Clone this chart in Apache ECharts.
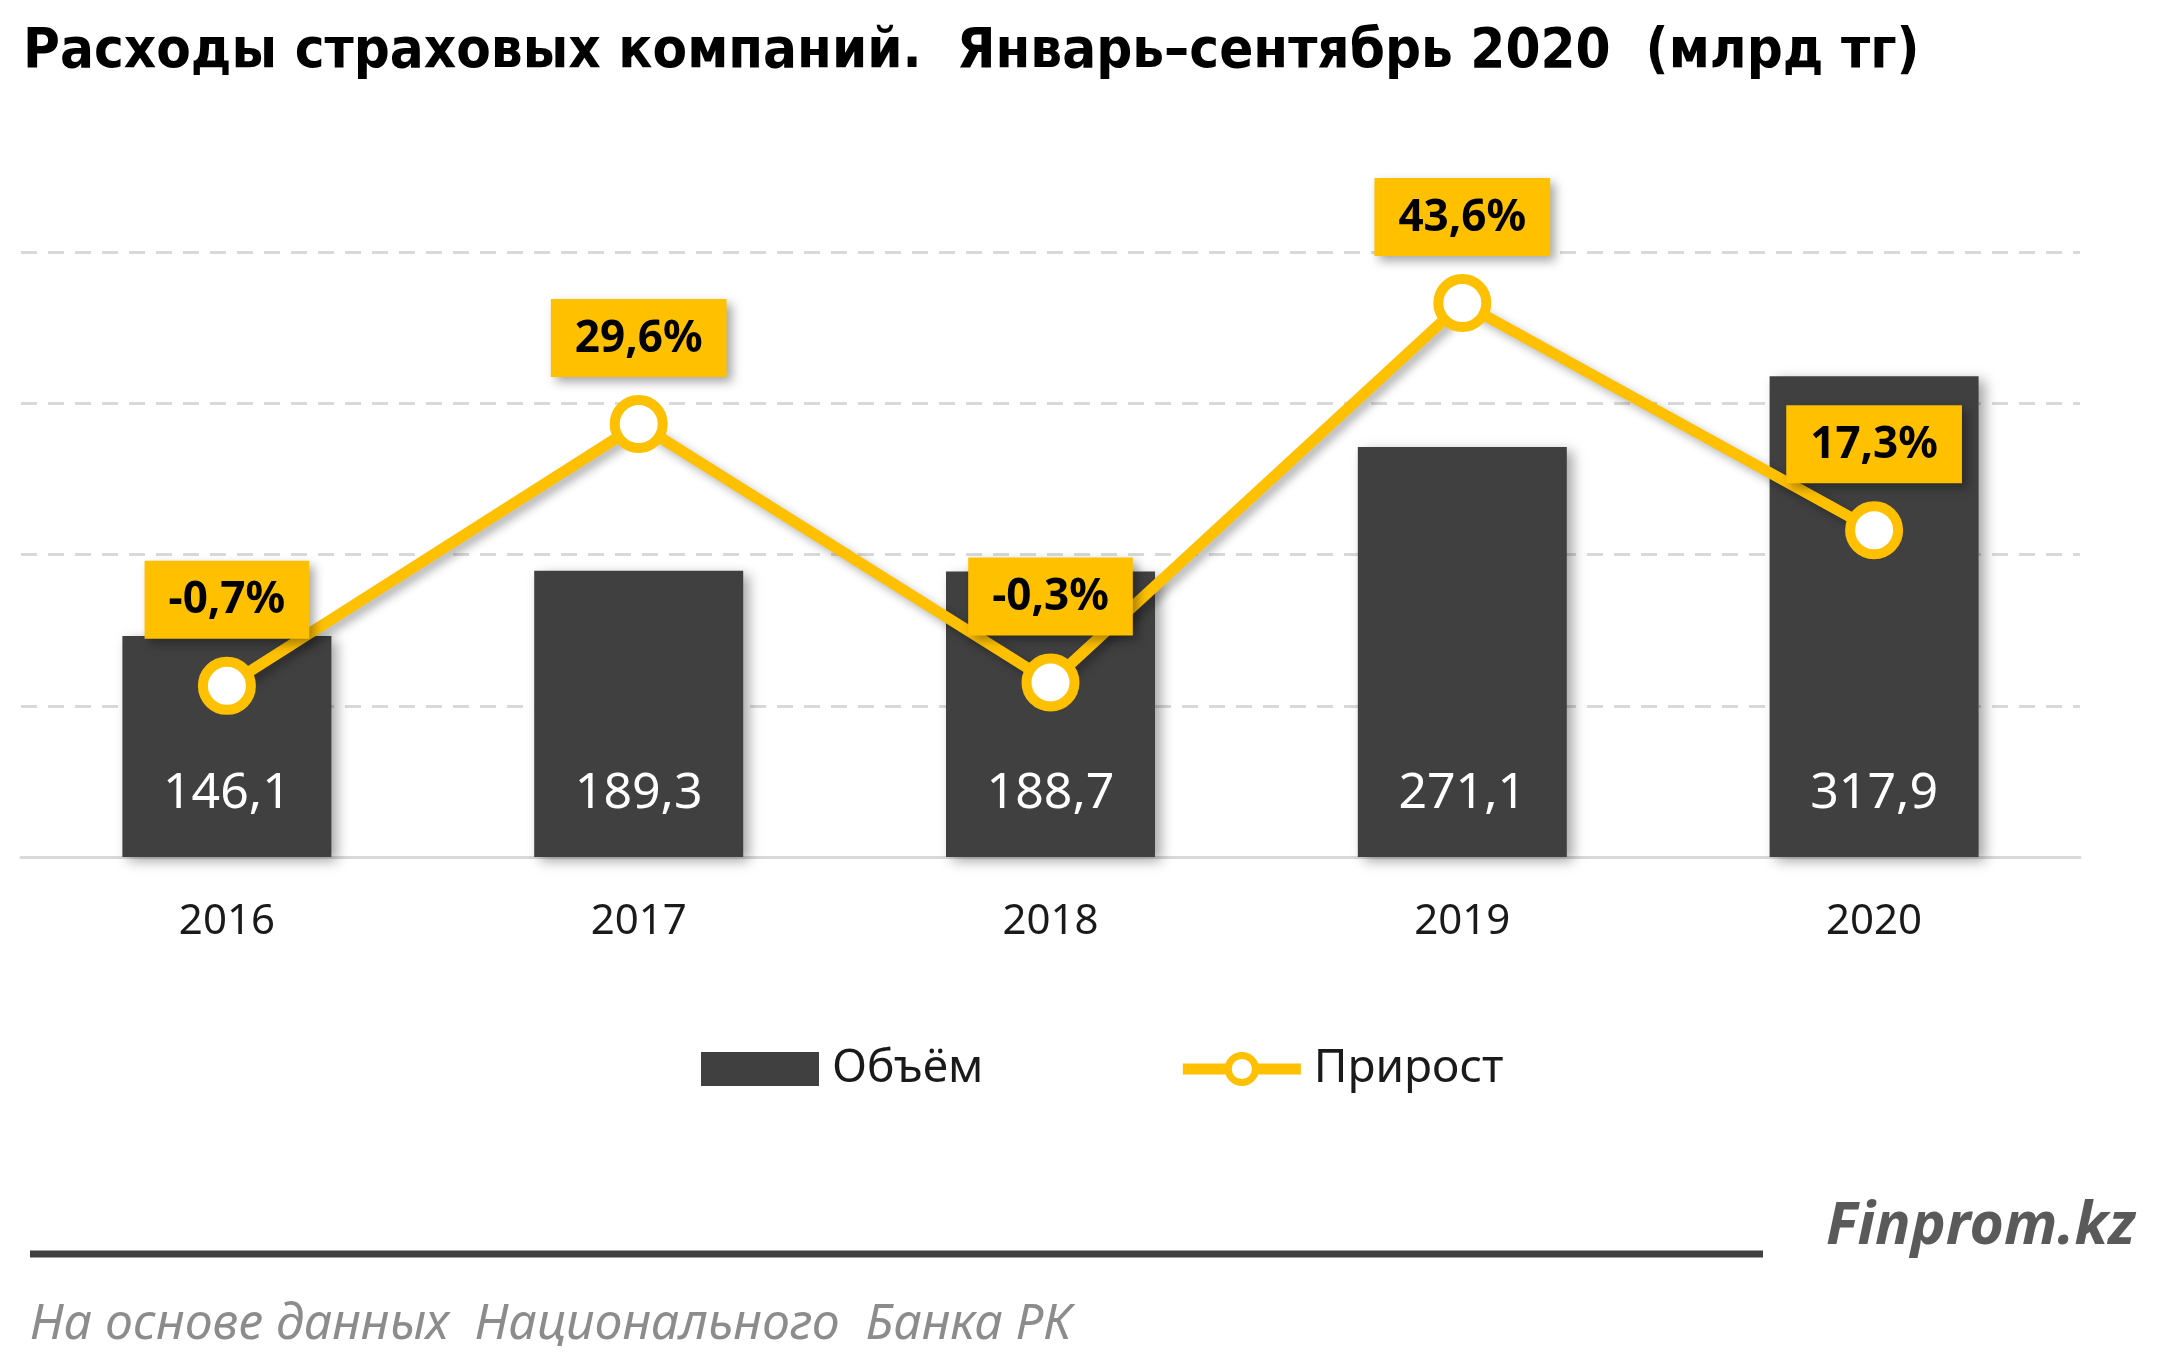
<!DOCTYPE html>
<html>
<head>
<meta charset="utf-8">
<script src="https://cdn.jsdelivr.net/npm/echarts@6/dist/echarts.min.js"></script>
<style>
  html, body { margin: 0; padding: 0; background: #fff; }
  #chart { width: 2160px; height: 1366px; }
</style>
</head>
<body>
<div id="chart"></div>
<script>
const years = ['2016', '2017', '2018', '2019', '2020']
const volume = [146.1, 189.3, 188.7, 271.1, 317.9]
const growth = [-0.7, 29.6, -0.3, 43.6, 17.3]

const gold = '#FFC000'
const dark = '#404040'
const comma = v => v.toFixed(1).replace('.', ',')

const chart = echarts.init(document.getElementById('chart'))
chart.setOption({
  animation: false,
  title: {
    text: 'Расходы страховых компаний.  Январь–сентябрь 2020  (млрд тг)',
    left: 18,
    top: 19,
    textStyle: {
      fontFamily: 'Liberation Sans Narrow, DejaVu Sans Condensed, sans-serif',
      fontWeight: 'bold',
      fontSize: 56,
      color: '#000'
    }
  },
  grid: { left: 21, right: 80, top: 252, bottom: 509 },
  legend: {
    left: 696,
    top: 1041,
    itemWidth: 118,
    itemHeight: 34,
    itemGap: 194,
    textStyle: {
      fontFamily: 'Noto Sans, sans-serif',
      fontSize: 46,
      color: '#1a1a1a',
      padding: [0, 0, 0, 8]
    },
    data: [
      { name: 'Объём', icon: 'rect' },
      { name: 'Прирост', itemStyle: { borderWidth: 7 }, lineStyle: { width: 11 } }
    ]
  },
  xAxis: {
    type: 'category',
    data: years,
    axisTick: { show: false },
    axisLine: { lineStyle: { color: '#d9d9d9', width: 3 } },
    axisLabel: {
      margin: 44,
      fontFamily: 'Noto Sans, sans-serif',
      fontSize: 42,
      color: '#1a1a1a'
    }
  },
  yAxis: [
    {
      type: 'value',
      min: 0,
      max: 400,
      interval: 100,
      axisLabel: { show: false },
      axisLine: { show: false },
      axisTick: { show: false },
      splitLine: { lineStyle: { color: '#d9d9d9', width: 3, type: [16, 11] } }
    },
    {
      type: 'value',
      min: -20.5,
      max: 49.5,
      show: false,
      splitLine: { show: false }
    }
  ],
  series: [
    {
      name: 'Объём',
      type: 'bar',
      data: volume,
      barWidth: 209,
      itemStyle: {
        color: dark,
        shadowColor: 'rgba(0,0,0,0.35)',
        shadowBlur: 12,
        shadowOffsetX: 6,
        shadowOffsetY: 4
      },
      label: {
        show: true,
        position: 'insideBottom',
        distance: 38,
        formatter: p => comma(p.value),
        fontFamily: 'Noto Sans, sans-serif',
        fontSize: 50,
        color: '#fff'
      }
    },
    {
      name: 'Прирост',
      type: 'line',
      yAxisIndex: 1,
      data: growth,
      symbol: 'circle',
      symbolSize: 48,
      z: 5,
      lineStyle: {
        color: gold,
        width: 11,
        shadowColor: 'rgba(0,0,0,0.3)',
        shadowBlur: 10,
        shadowOffsetX: 5,
        shadowOffsetY: 5
      },
      itemStyle: {
        color: '#fff',
        borderColor: gold,
        borderWidth: 10
      },
      label: {
        show: true,
        position: 'top',
        distance: 18,
        formatter: p => comma(p.value) + '%',
        fontFamily: 'Noto Sans, sans-serif',
        fontWeight: 'bold',
        fontSize: 44,
        color: '#000',
        backgroundColor: gold,
        padding: [18, 24, 16, 24],
        shadowColor: 'rgba(0,0,0,0.35)',
        shadowBlur: 10,
        shadowOffsetX: 5,
        shadowOffsetY: 5
      }
    }
  ],
  graphic: [
    {
      type: 'line',
      shape: { x1: 30, y1: 1254, x2: 1763, y2: 1254 },
      style: { stroke: dark, lineWidth: 7 }
    },
    {
      type: 'text',
      left: 1826,
      top: 1198,
      style: {
        text: 'Finprom.kz',
        fontFamily: 'Noto Sans, sans-serif',
        fontStyle: 'italic',
        fontWeight: 'bold',
        fontSize: 59,
        fill: '#5a5a5a'
      }
    },
    {
      type: 'text',
      left: 30,
      top: 1300,
      style: {
        text: 'На основе данных  Национального  Банка РК',
        fontFamily: 'Noto Sans, sans-serif',
        fontStyle: 'italic',
        fontSize: 50,
        fill: '#8c8c8c'
      }
    }
  ]
})
</script>
</body>
</html>
